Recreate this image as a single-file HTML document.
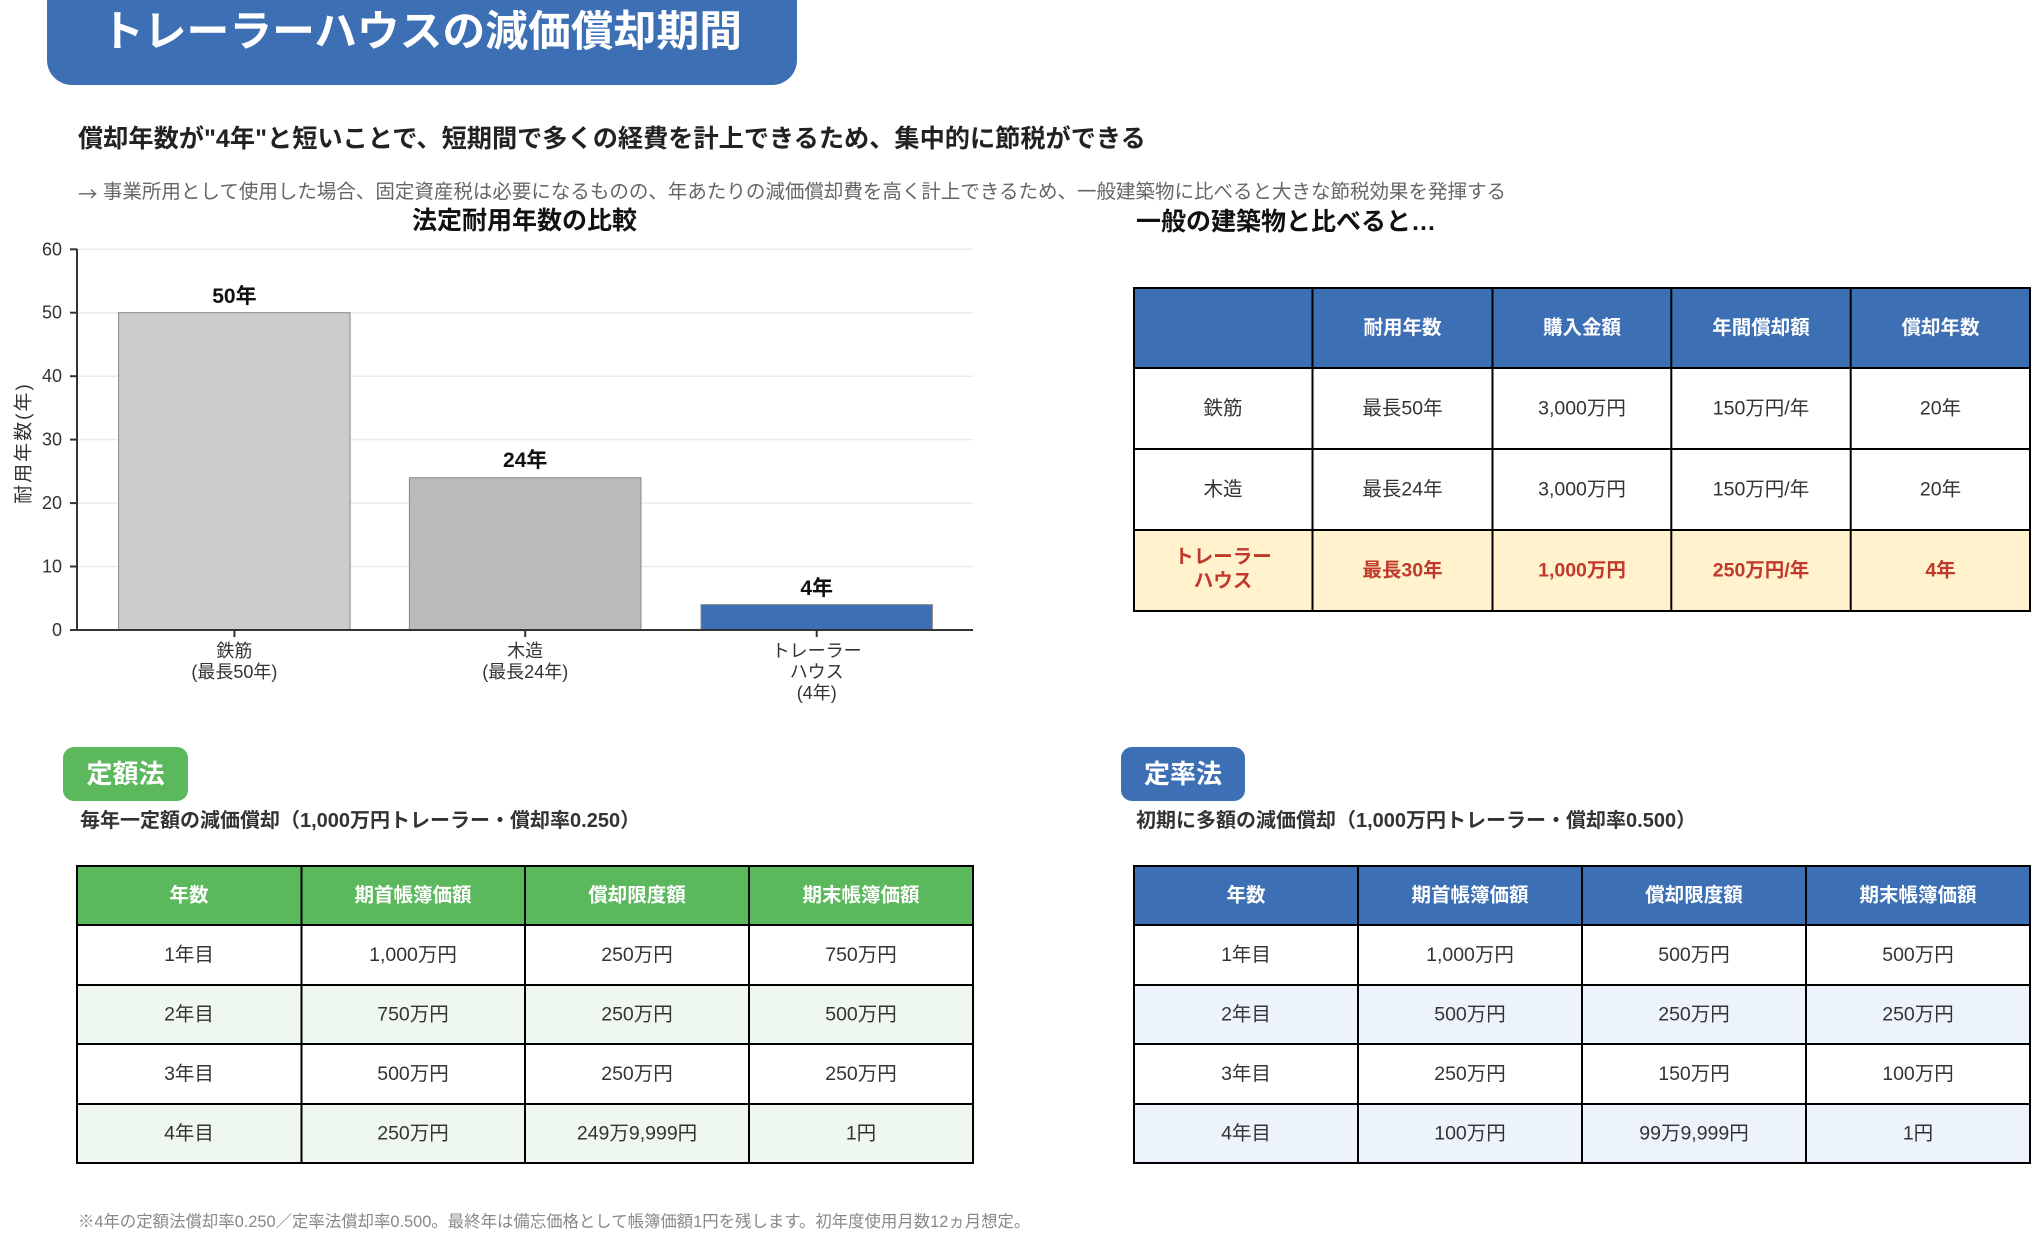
<!DOCTYPE html>
<html><head><meta charset="utf-8"><style>
html,body{margin:0;padding:0;background:#fff;}
svg{display:block;}
text{font-family:"Liberation Sans","Noto Sans CJK JP",sans-serif;}
</style></head><body>
<svg width="2044" height="1243" viewBox="0 0 2044 1243" xmlns="http://www.w3.org/2000/svg">
<!-- Banner -->
<rect x="47" y="-40" width="750" height="125" rx="25" fill="#3d6fb5"/>
<text x="421.5" y="32" font-size="42.8" font-weight="bold" fill="#fff" text-anchor="middle" dominant-baseline="central">トレーラーハウスの減価償却期間</text>

<text x="78" y="139" font-size="25.2" font-weight="bold" fill="#222" dominant-baseline="central">償却年数が"4年"と短いことで、短期間で多くの経費を計上できるため、集中的に節税ができる</text>
<text x="78" y="192" font-size="19.5" fill="#666" dominant-baseline="central"><tspan font-family="'Noto Sans CJK JP',sans-serif">→</tspan> 事業所用として使用した場合、固定資産税は必要になるものの、年あたりの減価償却費を高く計上できるため、一般建築物に比べると大きな節税効果を発揮する</text>

<!-- Chart -->
<text x="524.5" y="221" font-size="25" font-weight="bold" fill="#111" text-anchor="middle" dominant-baseline="central">法定耐用年数の比較</text>
<g stroke="#ebebeb" stroke-width="1.5">
<line x1="77" y1="566.5" x2="973" y2="566.5"/>
<line x1="77" y1="503.1" x2="973" y2="503.1"/>
<line x1="77" y1="439.6" x2="973" y2="439.6"/>
<line x1="77" y1="376.2" x2="973" y2="376.2"/>
<line x1="77" y1="312.7" x2="973" y2="312.7"/>
<line x1="77" y1="249.3" x2="973" y2="249.3"/>
</g>
<rect x="118.6" y="312.7" width="231.5" height="317.3" fill="#cccccc" stroke="#888" stroke-width="1"/>
<rect x="409.4" y="477.7" width="231.6" height="152.3" fill="#bbbbbb" stroke="#888" stroke-width="1"/>
<rect x="701" y="604.6" width="231.4" height="25.4" fill="#3d6fb5" stroke="#888" stroke-width="1"/>
<g stroke="#333" stroke-width="2">
<line x1="77" y1="249" x2="77" y2="631"/>
<line x1="76" y1="630" x2="973" y2="630"/>
<line x1="70" y1="630" x2="77" y2="630"/>
<line x1="70" y1="566.5" x2="77" y2="566.5"/>
<line x1="70" y1="503.1" x2="77" y2="503.1"/>
<line x1="70" y1="439.6" x2="77" y2="439.6"/>
<line x1="70" y1="376.2" x2="77" y2="376.2"/>
<line x1="70" y1="312.7" x2="77" y2="312.7"/>
<line x1="70" y1="249.3" x2="77" y2="249.3"/>
<line x1="234.4" y1="630" x2="234.4" y2="637"/>
<line x1="525.2" y1="630" x2="525.2" y2="637"/>
<line x1="816.7" y1="630" x2="816.7" y2="637"/>
</g>
<g font-size="18" fill="#333" text-anchor="end" dominant-baseline="central">
<text x="62" y="630">0</text>
<text x="62" y="566.5">10</text>
<text x="62" y="503.1">20</text>
<text x="62" y="439.6">30</text>
<text x="62" y="376.2">40</text>
<text x="62" y="312.7">50</text>
<text x="62" y="249.3">60</text>
</g>
<text transform="translate(24,443) rotate(-90)" font-size="19" fill="#333" text-anchor="middle" dominant-baseline="central" letter-spacing="2">耐用年数(年)</text>
<g font-size="21" font-weight="bold" fill="#111" text-anchor="middle" dominant-baseline="central">
<text x="234.4" y="296.5">50年</text>
<text x="525.2" y="460.5">24年</text>
<text x="816.7" y="588.5">4年</text>
</g>
<g font-size="18" fill="#333" text-anchor="middle" dominant-baseline="central">
<text x="234.4" y="651">鉄筋</text>
<text x="234.4" y="672">(最長50年)</text>
<text x="525.2" y="651">木造</text>
<text x="525.2" y="672">(最長24年)</text>
<text x="816.7" y="651">トレーラー</text>
<text x="816.7" y="672">ハウス</text>
<text x="816.7" y="693">(4年)</text>
</g>

<!-- Right comparison table -->
<text x="1136" y="222" font-size="25" font-weight="bold" fill="#111" dominant-baseline="central">一般の建築物と比べると…</text>
<rect x="1134" y="288" width="896" height="80" fill="#3d6fb5"/>
<rect x="1134" y="530" width="896" height="81" fill="#fff2cc"/>
<g stroke="#000" stroke-width="2" fill="none">
<rect x="1134" y="288" width="896" height="323"/>
<line x1="1134" y1="368" x2="2030" y2="368"/>
<line x1="1134" y1="449" x2="2030" y2="449"/>
<line x1="1134" y1="530" x2="2030" y2="530"/>
<line x1="1312.5" y1="288" x2="1312.5" y2="611"/>
<line x1="1492.5" y1="288" x2="1492.5" y2="611"/>
<line x1="1671.3" y1="288" x2="1671.3" y2="611"/>
<line x1="1850.7" y1="288" x2="1850.7" y2="611"/>
</g>
<g font-size="19.5" font-weight="bold" fill="#fff" text-anchor="middle" dominant-baseline="central">
<text x="1402.5" y="328">耐用年数</text>
<text x="1582" y="328">購入金額</text>
<text x="1761" y="328">年間償却額</text>
<text x="1940.5" y="328">償却年数</text>
</g>
<g font-size="19.5" fill="#333" text-anchor="middle" dominant-baseline="central">
<text x="1223" y="408.5">鉄筋</text>
<text x="1402.5" y="408.5">最長50年</text>
<text x="1582" y="408.5">3,000万円</text>
<text x="1761" y="408.5">150万円/年</text>
<text x="1940.5" y="408.5">20年</text>
<text x="1223" y="489.5">木造</text>
<text x="1402.5" y="489.5">最長24年</text>
<text x="1582" y="489.5">3,000万円</text>
<text x="1761" y="489.5">150万円/年</text>
<text x="1940.5" y="489.5">20年</text>
</g>
<g font-size="19.5" font-weight="bold" fill="#c0392b" text-anchor="middle" dominant-baseline="central">
<text x="1223" y="557">トレーラー</text>
<text x="1223" y="581">ハウス</text>
<text x="1402.5" y="570.5">最長30年</text>
<text x="1582" y="570.5">1,000万円</text>
<text x="1761" y="570.5">250万円/年</text>
<text x="1940.5" y="570.5">4年</text>
</g>

<!-- Left bottom: 定額法 -->
<rect x="63" y="747" width="125" height="54" rx="11" fill="#5cb85c"/>
<text x="125.5" y="774" font-size="26" font-weight="bold" fill="#fff" text-anchor="middle" dominant-baseline="central">定額法</text>
<text x="80" y="821" font-size="20" font-weight="bold" fill="#333" dominant-baseline="central">毎年一定額の減価償却（1,000万円トレーラー・償却率0.250）</text>
<rect x="77" y="866" width="896" height="59" fill="#5cb85c"/>
<rect x="77" y="985" width="896" height="59" fill="#eff8ef"/>
<rect x="77" y="1104" width="896" height="59" fill="#eff8ef"/>
<g stroke="#000" stroke-width="2" fill="none">
<rect x="77" y="866" width="896" height="297"/>
<line x1="77" y1="925" x2="973" y2="925"/>
<line x1="77" y1="985" x2="973" y2="985"/>
<line x1="77" y1="1044" x2="973" y2="1044"/>
<line x1="77" y1="1104" x2="973" y2="1104"/>
<line x1="301.5" y1="866" x2="301.5" y2="1163"/>
<line x1="525" y1="866" x2="525" y2="1163"/>
<line x1="749" y1="866" x2="749" y2="1163"/>
</g>
<g font-size="19.5" font-weight="bold" fill="#fff" text-anchor="middle" dominant-baseline="central">
<text x="189" y="895.5">年数</text>
<text x="413" y="895.5">期首帳簿価額</text>
<text x="637" y="895.5">償却限度額</text>
<text x="861" y="895.5">期末帳簿価額</text>
</g>
<g font-size="19.5" fill="#333" text-anchor="middle" dominant-baseline="central">
<text x="189" y="955">1年目</text><text x="413" y="955">1,000万円</text><text x="637" y="955">250万円</text><text x="861" y="955">750万円</text>
<text x="189" y="1014.5">2年目</text><text x="413" y="1014.5">750万円</text><text x="637" y="1014.5">250万円</text><text x="861" y="1014.5">500万円</text>
<text x="189" y="1074">3年目</text><text x="413" y="1074">500万円</text><text x="637" y="1074">250万円</text><text x="861" y="1074">250万円</text>
<text x="189" y="1133.5">4年目</text><text x="413" y="1133.5">250万円</text><text x="637" y="1133.5">249万9,999円</text><text x="861" y="1133.5">1円</text>
</g>

<!-- Right bottom: 定率法 -->
<rect x="1121" y="747" width="124" height="54" rx="11" fill="#3d6fb5"/>
<text x="1183" y="774" font-size="26" font-weight="bold" fill="#fff" text-anchor="middle" dominant-baseline="central">定率法</text>
<text x="1136" y="821" font-size="20" font-weight="bold" fill="#333" dominant-baseline="central">初期に多額の減価償却（1,000万円トレーラー・償却率0.500）</text>
<rect x="1134" y="866" width="896" height="59" fill="#3d6fb5"/>
<rect x="1134" y="985" width="896" height="59" fill="#edf3fb"/>
<rect x="1134" y="1104" width="896" height="59" fill="#edf3fb"/>
<g stroke="#000" stroke-width="2" fill="none">
<rect x="1134" y="866" width="896" height="297"/>
<line x1="1134" y1="925" x2="2030" y2="925"/>
<line x1="1134" y1="985" x2="2030" y2="985"/>
<line x1="1134" y1="1044" x2="2030" y2="1044"/>
<line x1="1134" y1="1104" x2="2030" y2="1104"/>
<line x1="1358" y1="866" x2="1358" y2="1163"/>
<line x1="1582" y1="866" x2="1582" y2="1163"/>
<line x1="1806" y1="866" x2="1806" y2="1163"/>
</g>
<g font-size="19.5" font-weight="bold" fill="#fff" text-anchor="middle" dominant-baseline="central">
<text x="1246" y="895.5">年数</text>
<text x="1470" y="895.5">期首帳簿価額</text>
<text x="1694" y="895.5">償却限度額</text>
<text x="1918" y="895.5">期末帳簿価額</text>
</g>
<g font-size="19.5" fill="#333" text-anchor="middle" dominant-baseline="central">
<text x="1246" y="955">1年目</text><text x="1470" y="955">1,000万円</text><text x="1694" y="955">500万円</text><text x="1918" y="955">500万円</text>
<text x="1246" y="1014.5">2年目</text><text x="1470" y="1014.5">500万円</text><text x="1694" y="1014.5">250万円</text><text x="1918" y="1014.5">250万円</text>
<text x="1246" y="1074">3年目</text><text x="1470" y="1074">250万円</text><text x="1694" y="1074">150万円</text><text x="1918" y="1074">100万円</text>
<text x="1246" y="1133.5">4年目</text><text x="1470" y="1133.5">100万円</text><text x="1694" y="1133.5">99万9,999円</text><text x="1918" y="1133.5">1円</text>
</g>

<text x="78" y="1222" font-size="16.4" fill="#888" dominant-baseline="central">※4年の定額法償却率0.250／定率法償却率0.500。最終年は備忘価格として帳簿価額1円を残します。初年度使用月数12ヵ月想定。</text>
</svg>
</body></html>
